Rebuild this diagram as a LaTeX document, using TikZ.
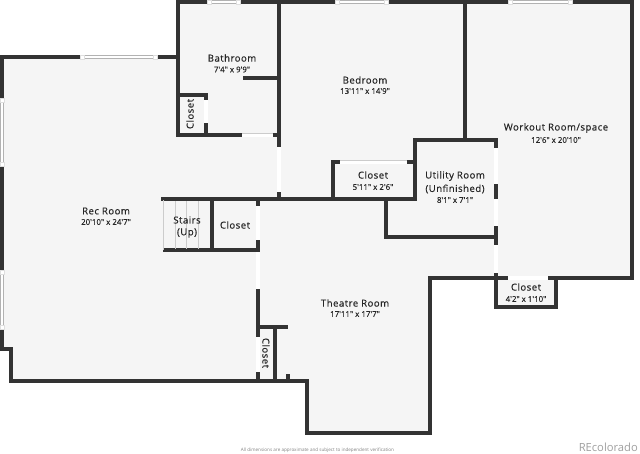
\documentclass[tikz,border=0pt]{standalone}
\usepackage{fontspec}
\usepackage{tikz}
\newfontfamily\planfont{Open Sans}[FakeBold=0.25]
\newfontfamily\namefont{Open Sans}[LetterSpace=5,FakeBold=0.45]
\newfontfamily\notefont{Open Sans}
\definecolor{wallcol}{HTML}{333333}
\definecolor{floorcol}{HTML}{F5F5F5}
\tikzset{
  wall/.style={color=wallcol,line width=3.6pt,line cap=rect,line join=miter},
  thinwall/.style={color=wallcol,line width=3.6pt,line cap=butt},
  doorway/.style={color=white,line width=3.6pt,line cap=butt},
  pane/.style={draw=gray!60,fill=white,line width=0.7pt},
  endcap/.style={draw=gray!25,fill=white,line width=0.3pt},
  stair/.style={color=gray!40,line width=0.7pt},
  room/.style={font=\namefont\fontsize{9.6}{11}\selectfont,text=black!85,inner sep=0pt},
  size/.style={font=\planfont\fontsize{7.9}{9}\selectfont,text=black!85,inner sep=0pt},
}
\begin{document}
\begin{tikzpicture}[x=1pt,y=-1pt]
\useasboundingbox (0,0) rectangle (640,453);
%%%%% Floor %%%%%
\fill[floorcol] (2,57)--(178,57)--(178,2)--(632,2)--(632,278)--(556,278)--(556,307)--(496,307)--(496,278)--(430,278)--(430,433)--(307,433)--(307,381)--(11,381)--(11,349)--(2,349)--cycle;
%%%%% Outer walls %%%%%
\draw[wall] (80,57)--(2,57)--(2,98);
\draw[wall] (2,166)--(2,270);
\draw[wall] (2,329)--(2,349)--(11,349)--(11,381)--(307,381)--(307,433)--(430,433)--(430,278)--(496,278);
\draw[wall] (157,57)--(178,57);
\draw[wall] (207,2)--(178,2)--(178,135)--(242,135);
\draw[wall] (240,2)--(335,2);
\draw[wall] (388,2)--(508,2);
\draw[wall] (572,2)--(632,2)--(632,278)--(548,278);
\draw[wall] (508,278)--(496,278)--(496,307)--(556,307)--(556,278);
%%%%% Inner walls %%%%%
\draw[wall] (279,2)--(279,147);
\draw[wall] (245,78)--(279,78);
\draw[wall] (178,95)--(206,95)--(206,100);
\draw[wall] (206,123)--(206,135);
\draw[wall] (273,135)--(279,135);
\draw[wall] (465,2)--(465,140);
\draw[wall] (279,192)--(279,199);
\draw[wall] (163,199)--(415,199)--(415,140)--(496,140)--(496,148);
\draw[wall] (333,199)--(333,162)--(340,162);
\draw[wall] (407,162)--(415,162);
\draw[wall] (386,199)--(386,237)--(496,237);
\foreach \ya/\yb in {184/199,226/245,273/278}{
\draw[thinwall] (496,\ya)--(496,\yb);
}
\draw[wall] (212,199)--(212,250);
\draw[thinwall] (163,250)--(260,250);
\draw[thinwall] (258,199)--(258,206);
\draw[thinwall] (258,240)--(258,252);
\draw[thinwall] (258,289)--(258,337);
\draw[thinwall] (258,372)--(258,381);
\draw[wall] (258,327)--(286,327);
\draw[thinwall] (275,327)--(275,381);
\draw[thinwall] (288,374)--(288,381);
%%%%% Stairs %%%%%
\draw[stair,line width=1pt] (163,200)--(163,250);
\foreach \x in {175,186.5,198}{
\draw[stair] (\x,201)--(\x,249);
}
%%%%% Doorways %%%%%
\draw[doorway] (242,135)--(273,135);
\draw[doorway] (206,100)--(206,123);
\draw[doorway] (279,147)--(279,192);
\draw[doorway] (340,162)--(407,162);
\draw[doorway] (258,206)--(258,240);
\draw[doorway] (258,252)--(258,289);
\draw[doorway] (258,337)--(258,372);
\draw[doorway] (496,148)--(496,184);
\draw[doorway] (496,199)--(496,226);
\draw[doorway] (496,245)--(496,273);
\draw[doorway] (508,278)--(548,278);
\draw[stair,line width=0.4pt] (242,133.2)--(273,133.2) (340,160.2)--(407,160.2);
%%%%% Windows %%%%%
\foreach \xa/\xb/\y in {80/157/57,207/240/2,335/388/2,508/572/2}{
\fill[white] (\xa,\y-1.8) rectangle (\xb,\y+1.8);
\draw[pane] (\xa+4,\y-1.6) rectangle (\xb-4,\y+1.6);
\draw[endcap] (\xa,\y-1.8) rectangle (\xa+4,\y+1.8);
\draw[endcap] (\xb-4,\y-1.8) rectangle (\xb,\y+1.8);
}
\foreach \ya/\yb in {98/166,270/329}{
\fill[white] (0.2,\ya) rectangle (3.8,\yb);
\draw[pane] (0.4,\ya+4) rectangle (3.6,\yb-4);
\draw[endcap] (0.2,\ya) rectangle (3.8,\ya+4);
\draw[endcap] (0.2,\yb-4) rectangle (3.8,\yb);
}
%%%%% Labels %%%%%
\node[room] (bathroom) at (232,58) {Bathroom};
\node[size] (bathroomsize) at (232,69.5) {7'4" x 9'9"};
\node[room] (bedroom) at (365,80) {Bedroom};
\node[size] (bedroomsize) at (365,91) {13'11" x 14'9"};
\node[room] (workout) at (556,128) {Workout Room/space};
\node[size] (workoutsize) at (556,140) {12'6" x 20'10"};
\node[room] (closeta) at (373,175) {Closet};
\node[size] (closetasize) at (373,187) {5'11" x 2'6"};
\node[room] (utility) at (455,176) {Utility Room};
\node[room] (unfinished) at (455,189) {(Unfinished)};
\node[size] (utilitysize) at (455,200) {8'1" x 7'1"};
\node[room] (recroom) at (106,211) {Rec Room};
\node[size] (recroomsize) at (106,222) {20'10" x 24'7"};
\node[room] (stairs) at (187,220) {Stairs};
\node[room] (stairsup) at (187,233) {(Up)};
\node[room] (closetb) at (235,225) {Closet};
\node[room] (theatre) at (355,303) {Theatre Room};
\node[size] (theatresize) at (355,314) {17'11" x 17'7"};
\node[room] (closetc) at (526,287) {Closet};
\node[size] (closetcsize) at (526,299) {4'2" x 1'10"};
\node[room,rotate=90] (closetd) at (190,114) {Closet};
\node[room,rotate=-90] (closete) at (266,353) {Closet};
\node[font=\notefont\fontsize{4.6}{5}\selectfont,text=gray,inner sep=0pt] (note) at (317.5,450) {All dimensions are approximate and subject to independent verification};
\node[font=\notefont\fontsize{11.2}{13}\selectfont,text=gray!75,inner sep=0pt,anchor=east] (brand) at (638,447) {REcolorado};
\end{tikzpicture}
\end{document}
